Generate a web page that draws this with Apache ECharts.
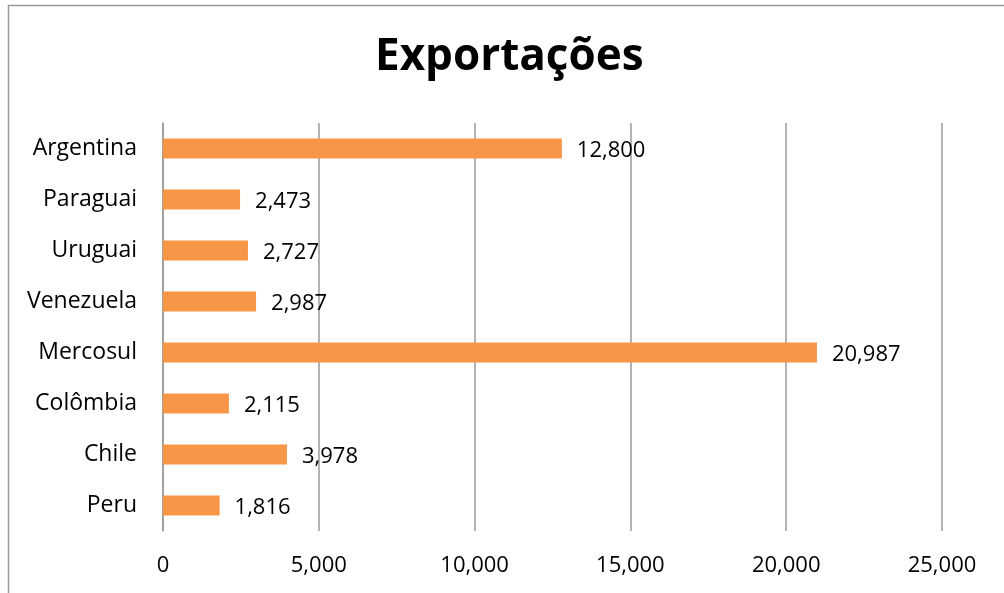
<!DOCTYPE html>
<html>
<head>
<meta charset="utf-8">
<script src="https://cdn.jsdelivr.net/npm/echarts@6/dist/echarts.min.js"></script>
<style>
  html, body { margin: 0; padding: 0; background: #fff; }
  #chart { width: 1004px; height: 593px; }
</style>
</head>
<body>
<div id="chart"></div>
<script>
// Export values by country (top to bottom as listed)
const categories = ['Argentina', 'Paraguai', 'Uruguai', 'Venezuela', 'Mercosul', 'Colômbia', 'Chile', 'Peru'];
const exportValues = [12800, 2473, 2727, 2987, 20987, 2115, 3978, 1816];
const xTicks = [0, 5000, 10000, 15000, 20000, 25000];

const fontFamily = '"Open Sans", "Noto Sans", sans-serif';
const fmt = v => Number(v).toLocaleString('en-US');

const chart = echarts.init(document.getElementById('chart'));
chart.setOption({
  animation: false,
  backgroundColor: '#ffffff',
  graphic: [{
    type: 'rect',
    shape: { x: 8.5, y: 5.5, width: 1100, height: 700 },
    style: { fill: 'none', stroke: '#9a9a9a', lineWidth: 1.5 },
    silent: true
  }],
  title: {
    text: 'Exportações',
    left: 375,
    top: 35,
    padding: 0,
    textStyle: { fontFamily, fontWeight: 'bold', fontSize: 44, color: '#000' }
  },
  grid: { left: 163, right: 62, top: 123, bottom: 62, containLabel: false },
  xAxis: {
    type: 'value',
    min: xTicks[0],
    max: xTicks[xTicks.length - 1],
    interval: xTicks[1] - xTicks[0],
    axisLine: { show: false },
    axisTick: { show: false },
    axisLabel: { fontFamily, fontSize: 22, color: '#000', margin: 24, formatter: fmt },
    splitLine: { show: true, lineStyle: { color: '#9a9a9a', width: 1.5 } }
  },
  yAxis: {
    type: 'category',
    data: categories,
    inverse: true,
    axisLine: { show: true, lineStyle: { color: '#9a9a9a', width: 1.5 } },
    axisTick: { show: false },
    axisLabel: { fontFamily, fontSize: 23, color: '#000', margin: 26, padding: [9, 0, 0, 0] },
    splitLine: { show: false }
  },
  series: [{
    type: 'bar',
    data: exportValues,
    barWidth: 20,
    itemStyle: { color: '#F79646' },
    label: {
      show: true,
      position: 'right',
      distance: 15,
      fontFamily,
      fontSize: 22,
      color: '#000',
      offset: [0, 2],
      formatter: p => fmt(p.value)
    }
  }]
});
</script>
</body>
</html>
